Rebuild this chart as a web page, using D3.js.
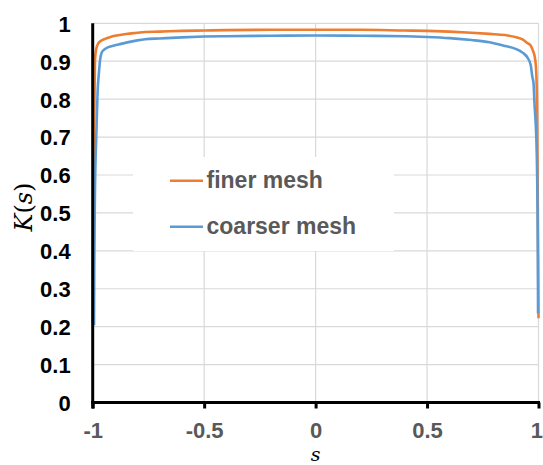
<!DOCTYPE html>
<html>
<head>
<meta charset="utf-8">
<script src="https://cdn.jsdelivr.net/npm/d3@7"></script>
<style>
  html, body { margin: 0; padding: 0; background: #fff; }
  svg { display: block; }
</style>
</head>
<body>
<svg id="chart" width="543" height="465"></svg>
<script>
// Kernel profile K(s) on [-1, 1] for two mesh resolutions
const fineS = [-1, -0.997, -0.994, -0.99, -0.985, -0.975, -0.96, -0.945, -0.92, -0.9, -0.85, -0.8, -0.765, -0.7, -0.6, -0.5, -0.4, -0.2, 0,
               0.2, 0.4, 0.5, 0.6, 0.7, 0.78, 0.85, 0.9, 0.93, 0.95, 0.965, 0.975, 0.985, 0.99, 0.994, 0.997, 1];
const fineK = [0.21, 0.5, 0.7, 0.9, 0.93, 0.947, 0.955, 0.959, 0.964, 0.967, 0.972, 0.975, 0.977, 0.978, 0.980, 0.981, 0.982, 0.983, 0.983,
               0.983, 0.981, 0.980, 0.978, 0.975, 0.972, 0.969, 0.963, 0.957, 0.948, 0.941, 0.928, 0.905, 0.87, 0.75, 0.5, 0.222];

const coarseS = [-0.994, -0.993, -0.99, -0.984, -0.978, -0.972, -0.967, -0.96, -0.95, -0.93, -0.9, -0.885, -0.85, -0.8, -0.765, -0.7, -0.6, -0.5, -0.4, -0.2, 0,
                 0.2, 0.4, 0.5, 0.6, 0.7, 0.78, 0.85, 0.9, 0.93, 0.95, 0.965, 0.972, 0.978, 0.981, 0.992, 0.997, 0.998];
const coarseK = [0.204, 0.35, 0.55, 0.7, 0.82, 0.87, 0.903, 0.922, 0.930, 0.937, 0.942, 0.944, 0.949, 0.955, 0.958, 0.960, 0.963, 0.965, 0.966, 0.967, 0.968,
                 0.967, 0.966, 0.964, 0.961, 0.956, 0.950, 0.940, 0.932, 0.922, 0.910, 0.89, 0.86, 0.84, 0.8, 0.66, 0.40, 0.235];

const seriesNames = ["finer mesh", "coarser mesh"];
const seriesColors = ["#ED7D31", "#5B9BD5"];
const xTicks = [-1, -0.5, 0, 0.5, 1];
const yTicks = [0, 0.1, 0.2, 0.3, 0.4, 0.5, 0.6, 0.7, 0.8, 0.9, 1];

const svg = d3.select("#chart");
const plotLeft = 92.7, plotRight = 538.5, plotTop = 23.3, plotBottom = 402.5;

const x = d3.scaleLinear().domain([-1, 1]).range([plotLeft, plotRight]);
const y = d3.scaleLinear().domain([0, 1]).range([plotBottom, plotTop]);

const font = "'Liberation Sans', Arial, sans-serif";

// grid
const grid = svg.append("g");
grid.selectAll("line.h").data(yTicks.filter(d => d > 0)).enter().append("line")
  .attr("class", "h")
  .attr("x1", plotLeft).attr("x2", plotRight)
  .attr("y1", d => y(d)).attr("y2", d => y(d))
  .attr("stroke", "#D9D9D9").attr("stroke-width", 1.2);
grid.selectAll("line.v").data(xTicks.filter(d => d > -1)).enter().append("line")
  .attr("class", "v")
  .attr("x1", d => x(d)).attr("x2", d => x(d))
  .attr("y1", plotTop).attr("y2", plotBottom)
  .attr("stroke", "#D9D9D9").attr("stroke-width", 1.2);

// series
const line = d3.line().x(d => x(d[0])).y(d => y(d[1])).curve(d3.curveMonotoneX);
const series = [d3.zip(fineS, fineK), d3.zip(coarseS, coarseK)];
svg.append("g").selectAll("path").data(series).enter().append("path")
  .attr("d", line)
  .attr("fill", "none")
  .attr("stroke", (d, i) => seriesColors[i])
  .attr("stroke-width", 2.6)
  .attr("stroke-linejoin", "round");

// x axis
const xAxis = svg.append("g").attr("transform", `translate(0,${plotBottom})`)
  .call(d3.axisBottom(x).tickValues(xTicks).tickSize(6).tickFormat(d3.format("")));
xAxis.select(".domain").attr("stroke", "#000").attr("stroke-width", 3)
  .attr("d", `M${plotLeft - 1.5},0H${plotRight + 1.5}`);
xAxis.selectAll(".tick line").attr("stroke", "#000").attr("stroke-width", 3);
xAxis.selectAll(".tick text")
  .attr("y", 35).attr("dy", null)
  .attr("fill", "#595959")
  .style("font-family", font).style("font-weight", "bold").style("font-size", "22px")
  .text(d => d3.format("")(d).replace("−", "-"));
// keep the last label inside the right edge
xAxis.selectAll(".tick text").filter(d => d === 1)
  .attr("text-anchor", "end").attr("x", 4);

// y axis
const yAxis = svg.append("g").attr("transform", `translate(${plotLeft},0)`)
  .call(d3.axisLeft(y).tickValues(yTicks).tickSize(0).tickFormat(d3.format("")));
yAxis.select(".domain").attr("stroke", "#000").attr("stroke-width", 3)
  .attr("d", `M0,${plotTop}V${plotBottom + 6}`);
yAxis.selectAll(".tick text")
  .attr("x", -22).attr("dy", "0.36em")
  .attr("fill", "#000")
  .style("font-family", font).style("font-weight", "bold").style("font-size", "22px");

// legend
const legend = svg.append("g");
legend.append("rect").attr("x", 133).attr("y", 157).attr("width", 261).attr("height", 94).attr("fill", "#fff");
const entries = legend.selectAll("g.entry").data(seriesNames).enter().append("g")
  .attr("class", "entry")
  .attr("transform", (d, i) => `translate(170,${180.7 + i * 46})`);
entries.append("line").attr("x1", 0).attr("x2", 33).attr("y1", 0).attr("y2", 0)
  .attr("stroke", (d, i) => seriesColors[i]).attr("stroke-width", 2.6);
entries.append("text").attr("x", 36.5).attr("y", 7.6)
  .attr("fill", "#595959")
  .style("font-family", font).style("font-weight", "bold").style("font-size", "23px")
  .text(d => d);

// axis titles
const serif = "'DejaVu Serif', 'Liberation Serif', serif";
const yTitle = svg.append("text")
  .attr("transform", "translate(24,207) rotate(-90)")
  .attr("text-anchor", "middle").attr("dominant-baseline", "central")
  .attr("fill", "#000").style("font-family", serif).style("font-size", "24px");
yTitle.append("tspan").style("font-style", "italic").text("K");
yTitle.append("tspan").text("(");
yTitle.append("tspan").style("font-style", "italic").text("s");
yTitle.append("tspan").text(")");

svg.append("text").attr("x", x(0)).attr("y", 460.5)
  .attr("text-anchor", "middle").attr("fill", "#000")
  .style("font-family", serif).style("font-style", "italic").style("font-size", "19px")
  .text("s");
</script>
</body>
</html>
